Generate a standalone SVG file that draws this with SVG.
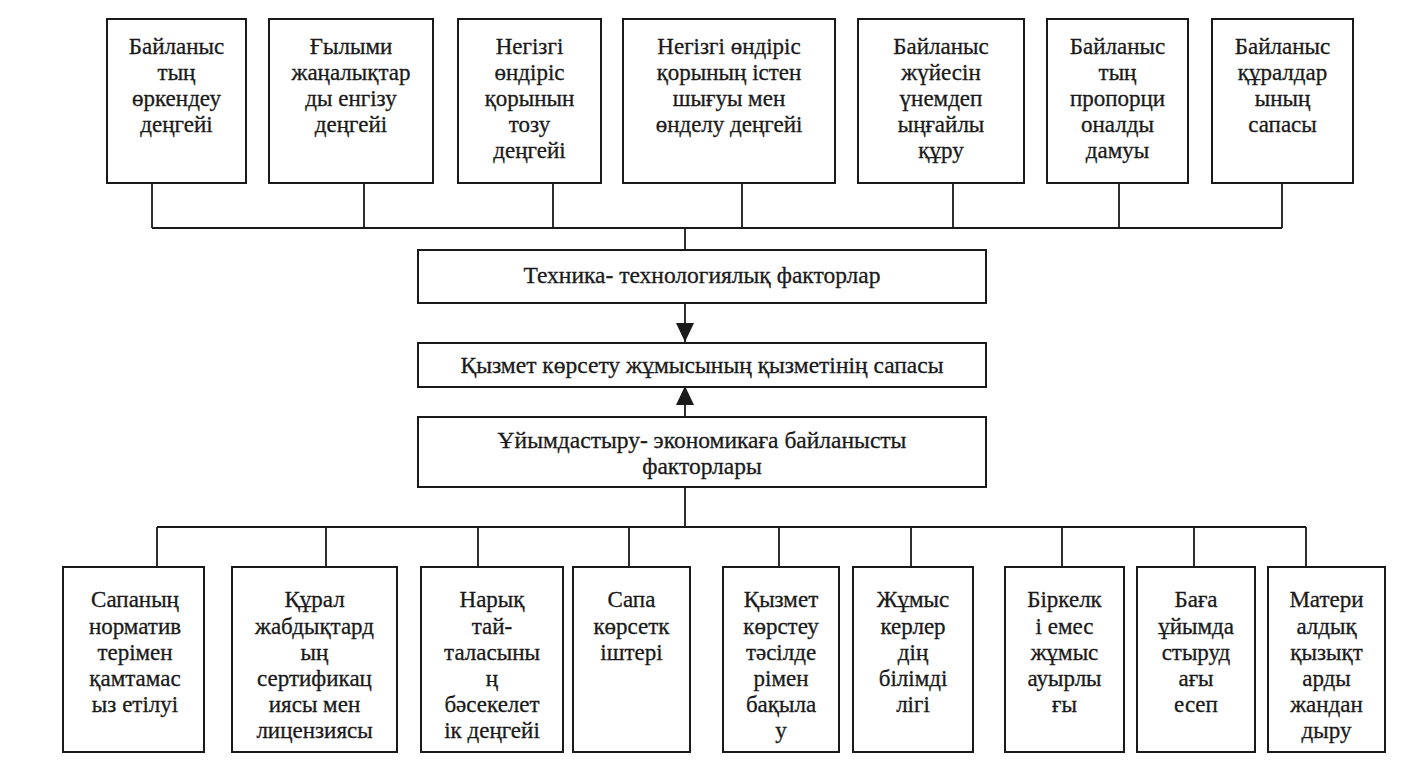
<svg xmlns="http://www.w3.org/2000/svg" width="1428" height="770" viewBox="0 0 1428 770">
<defs>
<style>
.box{fill:#fff;stroke:#1a1a1a;stroke-width:2}
.ln{fill:none;stroke:#1a1a1a;stroke-width:1.8}
.tx text{font-size:23px;fill:#1a1a1a;stroke:#1a1a1a;stroke-width:0.3;text-anchor:middle}
.tx .mid text{font-size:23.5px}
</style>
<marker id="ah" markerUnits="userSpaceOnUse" markerWidth="18" markerHeight="19" refX="19" refY="9" orient="auto">
<path d="M0,0 L19,9 L0,18 z" fill="#1a1a1a"/>
</marker>
</defs>
<rect width="1428" height="770" fill="#fff"/>

<g id="connectors">
<path class="ln" d="M152,183V228M364,183V228M553,183V228M742,183V228M953,183V228M1119,183V228M1282,183V228M152,228H1282M685,228V250"/>
<line class="ln" x1="685" y1="303" x2="685" y2="342" marker-end="url(#ah)"/>
<line class="ln" x1="685" y1="417" x2="685" y2="386" marker-end="url(#ah)"/>
<path class="ln" d="M685,487V527M157,527H1306M157,527V567M326,527V567M478,527V567M629,527V567M779,527V567M911,527V567M1062,527V567M1194,527V567M1306,527V567"/>
</g>

<g class="tx" font-family="Liberation Serif, DejaVu Serif, serif">
<g id="t1"><rect class="box" x="107" y="19" width="139" height="164"/>
<text x="176.5" y="54">Байланыс</text><text x="176.5" y="80">тың</text><text x="176.5" y="106">өркендеу</text><text x="176.5" y="132">деңгейі</text></g>
<g id="t2"><rect class="box" x="269" y="19" width="164" height="164"/>
<text x="351" y="54">Ғылыми</text><text x="351" y="80">жаңалықтар</text><text x="351" y="106">ды енгізу</text><text x="351" y="132">деңгейі</text></g>
<g id="t3"><rect class="box" x="458" y="19" width="143" height="164"/>
<text x="529.5" y="54">Негізгі</text><text x="529.5" y="80">өндіріс</text><text x="529.5" y="106">қорынын</text><text x="529.5" y="132">тозу</text><text x="529.5" y="158">деңгейі</text></g>
<g id="t4"><rect class="box" x="623" y="19" width="212" height="164"/>
<text x="729" y="54">Негізгі өндіріс</text><text x="729" y="80">қорының істен</text><text x="729" y="106">шығуы мен</text><text x="729" y="132">өнделу деңгейі</text></g>
<g id="t5"><rect class="box" x="858" y="19" width="166" height="164"/>
<text x="941" y="54">Байланыс</text><text x="941" y="80">жүйесін</text><text x="941" y="106">үнемдеп</text><text x="941" y="132">ыңғайлы</text><text x="941" y="158">құру</text></g>
<g id="t6"><rect class="box" x="1047" y="19" width="141" height="164"/>
<text x="1117.5" y="54">Байланыс</text><text x="1117.5" y="80">тың</text><text x="1117.5" y="106">пропорци</text><text x="1117.5" y="132">оналды</text><text x="1117.5" y="158">дамуы</text></g>
<g id="t7"><rect class="box" x="1212" y="19" width="141" height="164"/>
<text x="1282.5" y="54">Байланыс</text><text x="1282.5" y="80">құралдар</text><text x="1282.5" y="106">ының</text><text x="1282.5" y="132">сапасы</text></g>

<g class="mid">
<g id="tech"><rect class="box" x="418" y="250" width="568" height="53"/>
<text x="702" y="283">Техника- технологиялық факторлар</text></g>
<g id="quality"><rect class="box" x="418" y="343" width="568" height="44"/>
<text x="702" y="373">Қызмет көрсету жұмысының қызметінің сапасы</text></g>
<g id="org"><rect class="box" x="418" y="417" width="568" height="70"/>
<text x="702" y="448">Ұйымдастыру- экономикаға байланысты</text><text x="702" y="474">факторлары</text></g>
</g>

<g id="b1"><rect class="box" x="63" y="567" width="141" height="185"/>
<text x="135" y="607">Сапаның</text><text x="135" y="634">норматив</text><text x="135" y="660">терімен</text><text x="135" y="686">қамтамас</text><text x="135" y="712">ыз етілуі</text></g>
<g id="b2"><rect class="box" x="232" y="567" width="165" height="185"/>
<text x="314.5" y="607">Құрал</text><text x="314.5" y="634">жабдықтард</text><text x="314.5" y="660">ың</text><text x="314.5" y="686">сертификац</text><text x="314.5" y="712">иясы мен</text><text x="314.5" y="738">лицензиясы</text></g>
<g id="b3"><rect class="box" x="421" y="567" width="142" height="185"/>
<text x="492" y="607">Нарық</text><text x="492" y="634">тай-</text><text x="492" y="660">таласыны</text><text x="492" y="686">ң</text><text x="492" y="712">бәсекелет</text><text x="492" y="738">ік деңгейі</text></g>
<g id="b4"><rect class="box" x="573" y="567" width="117" height="185"/>
<text x="631.5" y="607">Сапа</text><text x="631.5" y="634">көрсетк</text><text x="631.5" y="660">іштері</text></g>
<g id="b5"><rect class="box" x="723" y="567" width="116" height="185"/>
<text x="781" y="607">Қызмет</text><text x="781" y="634">көрстеу</text><text x="781" y="660">тәсілде</text><text x="781" y="686">рімен</text><text x="781" y="712">бақыла</text><text x="781" y="738">у</text></g>
<g id="b6"><rect class="box" x="853" y="567" width="120" height="185"/>
<text x="913" y="607">Жұмыс</text><text x="913" y="634">керлер</text><text x="913" y="660">дің</text><text x="913" y="686">білімді</text><text x="913" y="712">лігі</text></g>
<g id="b7"><rect class="box" x="1005" y="567" width="119" height="185"/>
<text x="1064.5" y="607">Біркелк</text><text x="1064.5" y="634">і емес</text><text x="1064.5" y="660">жұмыс</text><text x="1064.5" y="686">ауырлы</text><text x="1064.5" y="712">ғы</text></g>
<g id="b8"><rect class="box" x="1137" y="567" width="118" height="185"/>
<text x="1196" y="607">Баға</text><text x="1196" y="634">ұйымда</text><text x="1196" y="660">стыруд</text><text x="1196" y="686">ағы</text><text x="1196" y="712">есеп</text></g>
<g id="b9"><rect class="box" x="1268" y="567" width="117" height="185"/>
<text x="1326.5" y="607">Матери</text><text x="1326.5" y="634">алдық</text><text x="1326.5" y="660">қызықт</text><text x="1326.5" y="686">арды</text><text x="1326.5" y="712">жандан</text><text x="1326.5" y="738">дыру</text></g>
</g>
</svg>
